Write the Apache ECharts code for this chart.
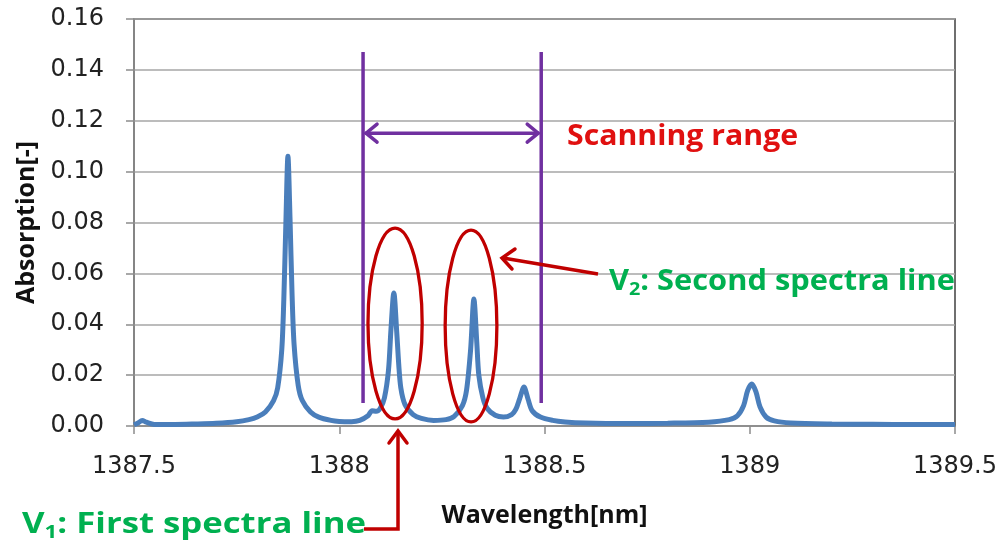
<!DOCTYPE html>
<html>
<head>
<meta charset="utf-8">
<script src="https://cdn.jsdelivr.net/npm/echarts@6/dist/echarts.min.js"></script>
<style>
  html, body { margin: 0; padding: 0; background: #fff; }
  #main { width: 1005px; height: 551px; }
</style>
</head>
<body>
<div id="main"></div>
<script>
// 波长 (nm) 与吸收率
var wavelength = [
  1387.50, 1387.51, 1387.52, 1387.53, 1387.55, 1387.60, 1387.65, 1387.70, 1387.75, 1387.78,
  1387.80, 1387.82, 1387.84, 1387.85, 1387.86, 1387.865, 1387.87, 1387.875, 1387.88, 1387.885,
  1387.89, 1387.90, 1387.91, 1387.93, 1387.95, 1387.98, 1388.00, 1388.03, 1388.05, 1388.07,
  1388.08, 1388.09, 1388.10, 1388.11, 1388.12, 1388.126, 1388.133, 1388.14, 1388.145, 1388.15,
  1388.16, 1388.18, 1388.20, 1388.23, 1388.26, 1388.28, 1388.30, 1388.31, 1388.32, 1388.328,
  1388.335, 1388.34, 1388.35, 1388.36, 1388.38, 1388.40, 1388.42, 1388.43, 1388.44, 1388.45,
  1388.46, 1388.47, 1388.49, 1388.52, 1388.55, 1388.60, 1388.70, 1388.80, 1388.90, 1388.95,
  1388.97, 1388.985, 1388.995, 1389.005, 1389.015, 1389.025, 1389.04, 1389.06, 1389.10, 1389.20,
  1389.30, 1389.40, 1389.50
];
var absorption = [
  0.0005, 0.0012, 0.0022, 0.0015, 0.0006, 0.0006, 0.0008, 0.0011, 0.0017, 0.0025,
  0.0035, 0.0055, 0.0100, 0.0150, 0.0300, 0.0500, 0.0800, 0.1060, 0.0820, 0.0520,
  0.0320, 0.0160, 0.0100, 0.0055, 0.0035, 0.0022, 0.0018, 0.0017, 0.0022, 0.0040,
  0.0060, 0.0058, 0.0070, 0.0110, 0.0220, 0.0380, 0.0523, 0.0370, 0.0240, 0.0150,
  0.0085, 0.0045, 0.0030, 0.0022, 0.0025, 0.0038, 0.0080, 0.0140, 0.0300, 0.0499,
  0.0330, 0.0200, 0.0110, 0.0070, 0.0042, 0.0035, 0.0045, 0.0065, 0.0110, 0.0153,
  0.0105, 0.0060, 0.0035, 0.0022, 0.0016, 0.0012, 0.0010, 0.0011, 0.0015, 0.0025,
  0.0040, 0.0080, 0.0140, 0.0165, 0.0135, 0.0075, 0.0035, 0.0020, 0.0012, 0.0008,
  0.0007, 0.0006, 0.0006
];

// 注释位置（数据坐标）
var scanRange = [1388.058, 1388.492];
var scanLineY = [0.009, 0.147];
var scanArrowY = 0.1151;
var ellipses = [
  // [xmin, xmax, ymin, ymax]
  [1388.070, 1388.202, 0.0028, 0.0778],
  [1388.258, 1388.384, 0.0016, 0.0770]
];

var seriesData = wavelength.map(function (w, i) { return [w, absorption[i]]; });

var myChart = echarts.init(document.getElementById('main'));
var font = '"Open Sans", "Noto Sans", sans-serif';

myChart.setOption({
  animation: false,
  grid: {
    left: 134, right: 50, top: 19, bottom: 125,
    show: true, borderColor: '#404040', borderWidth: 1.5
  },
  xAxis: {
    type: 'value',
    min: 1387.5, max: 1389.5, interval: 0.5,
    name: 'Wavelength[nm]',
    nameLocation: 'middle',
    nameGap: 77,
    nameTextStyle: { fontFamily: font, fontWeight: 'bold', fontSize: 25, color: '#111' },
    axisLine: { lineStyle: { color: '#8c8c8c', width: 1.5 } },
    axisTick: { show: true, length: 8, lineStyle: { color: '#8c8c8c', width: 1.5 } },
    axisLabel: {
      fontFamily: '"DejaVu Sans", sans-serif', fontSize: 24, color: '#222', margin: 29,
      formatter: function (v) { return String(v); }
    },
    splitLine: { show: false }
  },
  yAxis: {
    type: 'value',
    min: 0, max: 0.16, interval: 0.02,
    name: 'Absorption[-]',
    nameLocation: 'middle',
    nameGap: 93,
    nameRotate: 90,
    nameTextStyle: { fontFamily: font, fontWeight: 'bold', fontSize: 25, color: '#111' },
    axisLine: { show: true, lineStyle: { color: '#8c8c8c', width: 1.5 } },
    axisTick: { show: true, length: 8, lineStyle: { color: '#8c8c8c', width: 1.5 } },
    axisLabel: {
      fontFamily: '"DejaVu Sans", sans-serif', fontSize: 24, color: '#222', margin: 30,
      formatter: function (v) { return v.toFixed(2); }
    },
    splitLine: { lineStyle: { color: '#a6a6a6', width: 1.5 } }
  },
  series: [{
    type: 'line',
    data: seriesData,
    smooth: 0.3,
    showSymbol: false,
    lineStyle: { color: '#4a7ebb', width: 5 },
    z: 3
  }]
});

// 注释图形
function px(x, y) { return myChart.convertToPixel({ gridIndex: 0 }, [x, y]); }

var purple = '#7030a0', red = '#c00000', green = '#00b050';
var g = [];

// 扫描范围竖线
scanRange.forEach(function (x) {
  var a = px(x, scanLineY[0]), b = px(x, scanLineY[1]);
  g.push({ type: 'line', z: 10, shape: { x1: a[0], y1: a[1], x2: b[0], y2: b[1] },
    style: { stroke: purple, lineWidth: 3.5 } });
});
// 双向箭头
var l = px(scanRange[0], scanArrowY), r = px(scanRange[1], scanArrowY);
g.push({ type: 'line', z: 10, shape: { x1: l[0] + 2, y1: l[1], x2: r[0] - 2, y2: r[1] },
  style: { stroke: purple, lineWidth: 3.5 } });
g.push({ type: 'polyline', z: 10, shape: { points: [[l[0] + 14, l[1] - 9], [l[0] + 3, l[1]], [l[0] + 14, l[1] + 9]] },
  style: { stroke: purple, lineWidth: 3.5, fill: null, lineCap: 'round' } });
g.push({ type: 'polyline', z: 10, shape: { points: [[r[0] - 14, r[1] - 9], [r[0] - 3, r[1]], [r[0] - 14, r[1] + 9]] },
  style: { stroke: purple, lineWidth: 3.5, fill: null, lineCap: 'round' } });

// 椭圆
ellipses.forEach(function (e) {
  var p1 = px(e[0], e[3]), p2 = px(e[1], e[2]);
  g.push({ type: 'ellipse', z: 10,
    shape: { cx: (p1[0] + p2[0]) / 2, cy: (p1[1] + p2[1]) / 2, rx: (p2[0] - p1[0]) / 2, ry: (p2[1] - p1[1]) / 2 },
    style: { fill: null, stroke: red, lineWidth: 3.3 } });
});

// V2 箭头
g.push({ type: 'line', z: 10, shape: { x1: 598, y1: 274, x2: 503, y2: 258 },
  style: { stroke: red, lineWidth: 3.5 } });
g.push({ type: 'polyline', z: 10, shape: { points: [[515, 249], [502, 258], [512, 269]] },
  style: { stroke: red, lineWidth: 3.5, fill: null, lineCap: 'round' } });

// V1 箭头
g.push({ type: 'polyline', z: 10, shape: { points: [[364, 529], [398, 529], [398, 431]] },
  style: { stroke: red, lineWidth: 3.5, fill: null } });
g.push({ type: 'polyline', z: 10, shape: { points: [[389, 443], [398, 431], [407, 443]] },
  style: { stroke: red, lineWidth: 3.5, fill: null, lineCap: 'round' } });

// 文字（原图文字横向略拉宽）
g.push({ type: 'text', z: 11, x: 567, y: 137, scaleX: 1.08, style: {
  text: 'Scanning range', x: 0, y: 0, verticalAlign: 'middle',
  font: 'bold 28px ' + font, fill: '#e01010' } });

var rich = {
  a: { fontFamily: font, fontWeight: 'bold', fontSize: 28, fill: green, color: green },
  s: { fontFamily: font, fontWeight: 'bold', fontSize: 18, fill: green, color: green, padding: [16, 0, 0, 0] }
};
g.push({ type: 'text', z: 11, x: 609, y: 282, scaleX: 1.1, style: {
  text: '{a|V}{s|2}{a|: Second spectra line}', rich: rich,
  x: 0, y: 0, verticalAlign: 'middle' } });
g.push({ type: 'text', z: 11, x: 22, y: 525, scaleX: 1.24, style: {
  text: '{a|V}{s|1}{a|: First spectra line}', rich: rich,
  x: 0, y: 0, verticalAlign: 'middle' } });

myChart.setOption({ graphic: g });
</script>
</body>
</html>
